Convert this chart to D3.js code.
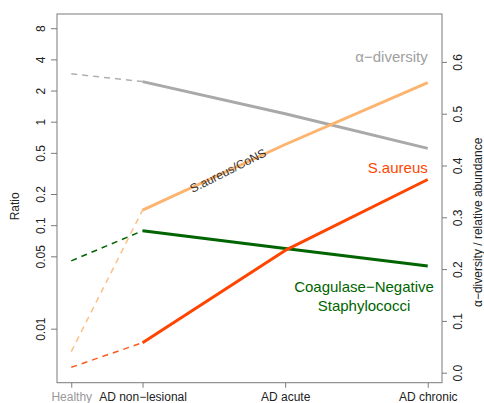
<!DOCTYPE html>
<html>
<head>
<meta charset="utf-8">
<script src="https://cdn.jsdelivr.net/npm/d3@7"></script>
<style>
  html, body { margin: 0; padding: 0; background: #fff; }
  svg { display: block; font-family: "Liberation Sans", Arial, Helvetica, sans-serif; }
</style>
</head>
<body>
<svg id="chart" width="484" height="403"></svg>
<script>
// Disease stages along the x axis (Healthy sits half a step before the AD stages)
const stages = ["Healthy", "AD non\u2212lesional", "AD acute", "AD chronic"];
const stagePos = [0.5, 1, 2, 3];

// Left axis (log): S.aureus / CoNS ratio
const ratioSaCons = [0.0060, 0.140, 0.602, 2.38];
// Right axis (linear): alpha diversity and relative abundances
const alphaDiversity = [0.577, 0.562, 0.500, 0.433];
const sAureus = [0.0104, 0.058, 0.236, 0.373];
const cons = [0.216, 0.274, 0.240, 0.206];

const ratioTicks = [0.01, 0.05, 0.1, 0.2, 0.5, 1, 2, 4, 8];
const ratioTickLabels = ["0.01", "0.05", "0.1", "0.2", "0.5", "1", "2", "4", "8"];
const rightTicks = [0, 0.1, 0.2, 0.3, 0.4, 0.5, 0.6];
const rightTickLabels = ["0.0", "0.1", "0.2", "0.3", "0.4", "0.5", "0.6"];

const svg = d3.select("#chart");
const box = { left: 57, right: 442, top: 14, bottom: 382.7 };

const x = d3.scaleLinear().domain([0.4, 3.1]).range([box.left, box.right]);
const yRatio = d3.scaleLog().domain([0.003006, 10.98]).range([box.bottom, box.top]);
const yRight = d3.scaleLinear().domain([-0.0193, 0.6925]).range([box.bottom, box.top]);

const axisColor = "#7a7a7a";
const textColor = "#222";

// Left axis
const leftAxis = svg.append("g")
  .attr("transform", `translate(${box.left},0)`)
  .call(d3.axisLeft(yRatio).tickValues(ratioTicks)
    .tickFormat((d, i) => ratioTickLabels[i]).tickSize(6).tickPadding(0));
leftAxis.select(".domain").remove();
leftAxis.selectAll(".tick line").attr("stroke", axisColor);
leftAxis.selectAll(".tick text")
  .attr("fill", textColor)
  .style("font-size", "12px")
  .attr("text-anchor", "middle")
  .attr("x", 0).attr("dy", 0)
  .attr("transform", "translate(-16,0) rotate(-90)")
  .attr("dominant-baseline", "central");

// Right axis
const rightAxis = svg.append("g")
  .attr("transform", `translate(${box.right},0)`)
  .call(d3.axisRight(yRight).tickValues(rightTicks)
    .tickFormat((d, i) => rightTickLabels[i]).tickSize(5).tickPadding(0));
rightAxis.select(".domain").remove();
rightAxis.selectAll(".tick line").attr("stroke", axisColor);
rightAxis.selectAll(".tick text")
  .attr("fill", textColor)
  .style("font-size", "12px")
  .attr("text-anchor", "middle")
  .attr("x", 0).attr("dy", 0)
  .attr("transform", "translate(16,0) rotate(-90)")
  .attr("dominant-baseline", "central");

// Bottom axis
const bottomAxis = svg.append("g")
  .attr("transform", `translate(0,${box.bottom})`)
  .call(d3.axisBottom(x).tickValues(stagePos)
    .tickFormat((d, i) => stages[i]).tickSize(5).tickPadding(5));
bottomAxis.select(".domain").remove();
bottomAxis.selectAll(".tick line").attr("stroke", axisColor);
bottomAxis.selectAll(".tick text")
  .style("font-size", "12px")
  .attr("fill", (d, i) => i === 0 ? "#999" : textColor);

// Plot frame
svg.append("rect")
  .attr("x", box.left).attr("y", box.top)
  .attr("width", box.right - box.left).attr("height", box.bottom - box.top)
  .attr("fill", "none").attr("stroke", axisColor).attr("stroke-width", 1);

// Axis titles
svg.append("text")
  .attr("transform", `translate(15,${(box.top + box.bottom) / 2 + 8}) rotate(-90)`)
  .attr("text-anchor", "middle").attr("dominant-baseline", "central")
  .style("font-size", "12px").attr("fill", textColor)
  .text("Ratio");
svg.append("text")
  .attr("transform", `translate(478,${(box.top + box.bottom) / 2 + 24}) rotate(-90)`)
  .attr("text-anchor", "middle").attr("dominant-baseline", "central")
  .style("font-size", "12px").attr("fill", textColor)
  .text("\u03b1\u2212diversity / relative abundance");

// Series: dashed Healthy → non-lesional, solid across AD stages
const series = [
  { values: alphaDiversity, y: yRight, color: "#a9a9a9", dashColor: "#b0b0b0" },
  { values: ratioSaCons, y: yRatio, color: "#fdb46e", dashColor: "#fdbf85" },
  { values: cons, y: yRight, color: "#006400", dashColor: "#006400" },
  { values: sAureus, y: yRight, color: "#ff4500", dashColor: "#ff5a1f" }
];

series.forEach(s => {
  const pts = stagePos.map((p, i) => [x(p), s.y(s.values[i])]);
  const line = d3.line();
  svg.append("path")
    .attr("d", line(pts.slice(0, 2)))
    .attr("fill", "none").attr("stroke", s.dashColor)
    .attr("stroke-width", 1.5).attr("stroke-dasharray", "6,5");
  svg.append("path")
    .attr("d", line(pts.slice(1)))
    .attr("fill", "none").attr("stroke", s.color)
    .attr("stroke-width", 3).attr("stroke-linejoin", "round");
});

// Series labels
svg.append("text")
  .attr("x", x(3)).attr("y", 62)
  .attr("text-anchor", "end").style("font-size", "15px").attr("fill", "#a0a0a0")
  .text("\u03b1\u2212diversity");
svg.append("text")
  .attr("x", x(3)).attr("y", 172.5)
  .attr("text-anchor", "end").style("font-size", "15px").attr("fill", "#ff4500")
  .text("S.aureus");
const consLabel = svg.append("text")
  .attr("text-anchor", "middle").style("font-size", "15px").attr("fill", "#006400");
consLabel.append("tspan").attr("x", 364).attr("y", 291.5).text("Coagulase\u2212Negative");
consLabel.append("tspan").attr("x", 364).attr("y", 311).text("Staphylococci");

// Ratio label laid along its line
const lx = 228;
const p1 = [x(stagePos[1]), yRatio(ratioSaCons[1])];
const p2 = [x(stagePos[2]), yRatio(ratioSaCons[2])];
const ly = p1[1] + (p2[1] - p1[1]) * (lx - p1[0]) / (p2[0] - p1[0]);
const angle = Math.atan2(p2[1] - p1[1], p2[0] - p1[0]) * 180 / Math.PI - 2;
svg.append("text")
  .attr("transform", `translate(${lx},${ly}) rotate(${angle})`)
  .attr("text-anchor", "middle").attr("dy", "0.33em")
  .style("font-size", "12px").attr("fill", "#333")
  .text("S.aureus/CoNS");
</script>
</body>
</html>
